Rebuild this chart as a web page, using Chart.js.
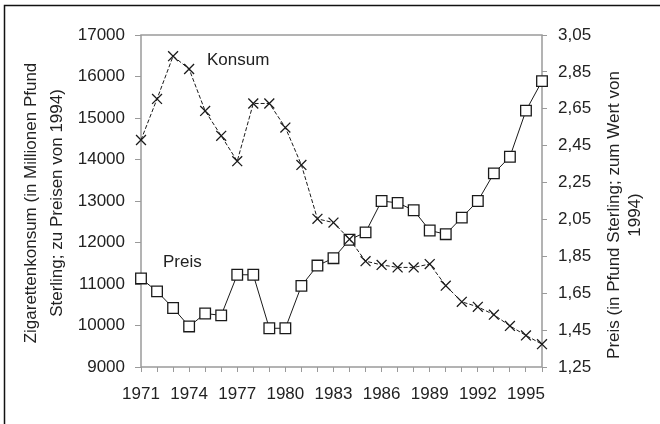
<!DOCTYPE html>
<html>
<head>
<meta charset="utf-8">
<script src="https://cdn.jsdelivr.net/npm/chart.js@4/dist/chart.umd.min.js"></script>
<style>
html, body { margin: 0; padding: 0; background: #fff; }
#wrap { width: 660px; height: 424px; }
</style>
</head>
<body>
<div id="wrap"><canvas id="cigChart" width="660" height="424"></canvas></div>
<script>
'use strict';

var years = ['1971', '1972', '1973', '1974', '1975', '1976', '1977', '1978', '1979', '1980',
             '1981', '1982', '1983', '1984', '1985', '1986', '1987', '1988', '1989', '1990',
             '1991', '1992', '1993', '1994', '1995', '1996'];
// Zigarettenkonsum, Mio. Pfund Sterling (Preise von 1994)
var konsum = [14470, 15460, 16490, 16180, 15170, 14570, 13960, 15350, 15350, 14770,
              13870, 12570, 12480, 12080, 11550, 11460, 11400, 11400, 11480, 10960,
              10570, 10450, 10260, 9990, 9760, 9550];
// Preis, Pfund Sterling (Wert von 1994)
var preis = [1.73, 1.66, 1.57, 1.47, 1.54, 1.53, 1.75, 1.75, 1.46, 1.46,
             1.69, 1.80, 1.84, 1.94, 1.98, 2.15, 2.14, 2.10, 1.99, 1.97,
             2.06, 2.15, 2.30, 2.39, 2.64, 2.80];
var konsumTicks = [9000, 10000, 11000, 12000, 13000, 14000, 15000, 16000, 17000];
var preisTicks = [1.25, 1.45, 1.65, 1.85, 2.05, 2.25, 2.45, 2.65, 2.85, 3.05];

var leftTitle = ['Zigarettenkonsum (in Millionen Pfund', 'Sterling; zu Preisen von 1994)'];
var rightTitle = ['Preis (in Pfund Sterling; zum Wert von', '1994)'];

var inkColor = '#1a1a1a';
var axisGray = '#9a9a9a';
var fontFamily = '"Liberation Sans", Arial, sans-serif';

Chart.defaults.font.family = fontFamily;
Chart.defaults.font.size = 17;
Chart.defaults.color = '#222';

function verticalText(ctx, lines, xs, cy) {
    for (var i = 0; i < lines.length; i++) {
        ctx.save();
        ctx.translate(xs[i], cy);
        ctx.rotate(-Math.PI / 2);
        ctx.fillText(lines[i], 0, 0);
        ctx.restore();
    }
}

var chartDecor = {
    id: 'chartDecor',
    beforeDatasetsDraw: function (chart) {
        var ctx = chart.ctx, a = chart.chartArea;
        ctx.save();
        ctx.strokeStyle = axisGray;
        ctx.lineWidth = 1.5;
        ctx.strokeRect(a.left, a.top, a.right - a.left, a.bottom - a.top);
        ctx.restore();
    },
    afterDraw: function (chart) {
        var ctx = chart.ctx;
        ctx.save();
        // outer frame, only top and left edges show in the original
        ctx.strokeStyle = '#111';
        ctx.lineWidth = 1.5;
        ctx.beginPath();
        ctx.moveTo(4.5, 424);
        ctx.lineTo(4.5, 5.5);
        ctx.lineTo(660, 5.5);
        ctx.stroke();

        ctx.fillStyle = '#222';
        ctx.font = '17px ' + fontFamily;
        ctx.textAlign = 'center';
        ctx.textBaseline = 'middle';
        verticalText(ctx, leftTitle, [31, 57], 203);
        verticalText(ctx, rightTitle, [614, 635], 215);

        ctx.textAlign = 'left';
        ctx.fillText('Konsum', 207, 60);
        ctx.fillText('Preis', 163, 262);
        ctx.restore();
    }
};

function generateCigaretteChart(canvas) {
    var cigChart = new Chart(canvas, {
        type: 'line',
        data: {
            labels: years,
            datasets: [
                {
                    label: 'Konsum',
                    data: konsum,
                    yAxisID: 'y',
                    borderColor: inkColor,
                    borderWidth: 1,
                    borderDash: [4, 2],
                    fill: false,
                    tension: 0,
                    pointStyle: 'crossRot',
                    pointRadius: 7,
                    pointBorderColor: inkColor,
                    pointBorderWidth: 1.3,
                    clip: false
                },
                {
                    label: 'Preis',
                    data: preis,
                    yAxisID: 'y1',
                    borderColor: inkColor,
                    borderWidth: 1,
                    fill: false,
                    tension: 0,
                    pointStyle: 'rect',
                    pointRadius: 7.5,
                    pointBackgroundColor: '#fff',
                    pointBorderColor: inkColor,
                    pointBorderWidth: 1.3,
                    clip: false
                }
            ]
        },
        options: {
            responsive: false,
            animation: false,
            devicePixelRatio: 1,
            layout: { padding: { top: 35, left: 0, right: 0, bottom: 0 } },
            plugins: {
                legend: { display: false },
                tooltip: { enabled: false }
            },
            scales: {
                x: {
                    offset: false,
                    border: { display: false },
                    grid: { drawOnChartArea: false, drawTicks: true, tickLength: 5, color: axisGray, lineWidth: 1 },
                    ticks: {
                        autoSkip: false,
                        maxRotation: 0,
                        padding: 12,
                        callback: function (val, i) { return i % 3 === 0 ? years[i] : ''; }
                    },
                    afterFit: function (scale) { scale.height = 57; }
                },
                y: {
                    position: 'left',
                    min: 9000,
                    max: 17000,
                    border: { display: false },
                    grid: { drawOnChartArea: false, drawTicks: true, tickLength: 6, color: axisGray },
                    afterBuildTicks: function (scale) {
                        scale.ticks = konsumTicks.map(function (v) { return { value: v }; });
                    },
                    ticks: {
                        padding: 10,
                        callback: function (v) { return String(v); }
                    },
                    afterFit: function (scale) { scale.width = 141; }
                },
                y1: {
                    position: 'right',
                    min: 1.25,
                    max: 3.05,
                    border: { display: false },
                    grid: { drawOnChartArea: false, drawTicks: true, tickLength: 5, color: axisGray },
                    afterBuildTicks: function (scale) {
                        scale.ticks = preisTicks.map(function (v) { return { value: v }; });
                    },
                    ticks: {
                        padding: 11,
                        callback: function (v) { return v.toFixed(2).replace('.', ','); }
                    },
                    afterFit: function (scale) { scale.width = 118; }
                }
            }
        },
        plugins: [chartDecor]
    });
    return cigChart;
}

generateCigaretteChart(document.getElementById('cigChart'));
</script>
</body>
</html>
